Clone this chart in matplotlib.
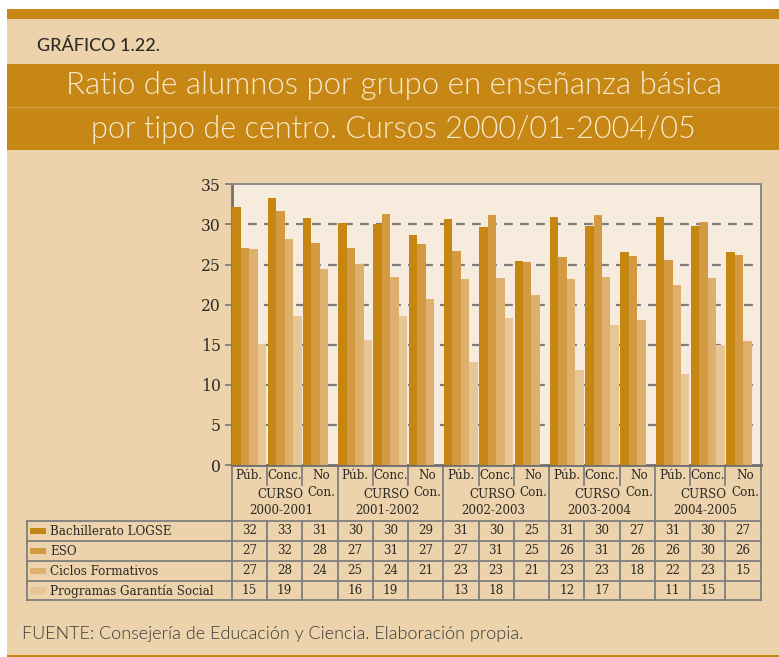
import matplotlib
matplotlib.use("Agg")
import matplotlib.pyplot as plt
from matplotlib.patches import Rectangle
from matplotlib.lines import Line2D
from matplotlib.transforms import blended_transform_factory
from matplotlib import font_manager as fm
import numpy as np

# ---------------- data ----------------
years = ["2000-2001", "2001-2002", "2002-2003", "2003-2004", "2004-2005"]
centers = ["Púb.", "Conc.", "No\nCon."]
series_names = ["Bachillerato LOGSE", "ESO", "Ciclos Formativos", "Programas Garantía Social"]

# bar heights, ordered year by year: Púb., Conc., No Con.
bachillerato = [32.2, 33.3, 30.8, 30.2, 30.1, 28.7, 30.7, 29.7, 25.4, 30.9, 29.8, 26.6, 30.9, 29.8, 26.6]
eso = [27.1, 31.7, 27.7, 27.1, 31.3, 27.6, 26.7, 31.2, 25.3, 25.9, 31.2, 26.1, 25.6, 30.3, 26.2]
ciclos = [26.9, 28.2, 24.4, 25.1, 23.4, 20.7, 23.2, 23.3, 21.2, 23.2, 23.4, 18.1, 22.4, 23.3, 15.5]
garantia = [15.1, 18.6, None, 15.6, 18.6, None, 12.8, 18.3, None, 11.9, 17.5, None, 11.4, 15.0, None]

# table (rounded) labels
tab_bach = ["32", "33", "31", "30", "30", "29", "31", "30", "25", "31", "30", "27", "31", "30", "27"]
tab_eso = ["27", "32", "28", "27", "31", "27", "27", "31", "25", "26", "31", "26", "26", "30", "26"]
tab_ciclos = ["27", "28", "24", "25", "24", "21", "23", "23", "21", "23", "23", "18", "22", "23", "15"]
tab_garantia = ["15", "19", "", "16", "19", "", "13", "18", "", "12", "17", "", "11", "15", ""]

yticks = [0, 5, 10, 15, 20, 25, 30, 35]

colors = ["#C68612", "#D39A41", "#DEB06D", "#E8C594"]
BG = "#ECD3AC"
GOLD = "#C68714"
AXFACE = "#F7EBDD"
GRIDC = "#7D7D7D"
TXT = "#2E2A26"
SANS = ["Lato", "DejaVu Sans"]

# condensed serif if available
cond = [f for f in fm.fontManager.ttflist if f.name.startswith("DejaVu Serif") and "Condensed" in f.fname
        and "Bold" not in f.fname and "Italic" not in f.fname]
if cond:
    SERIF_FP = fm.FontProperties(fname=cond[0].fname)
else:
    SERIF_FP = fm.FontProperties(family="DejaVu Serif")


def sfp(size):
    p = SERIF_FP.copy()
    p.set_size(size)
    return p


W, H = 779, 657
fig = plt.figure(figsize=(W / 100, H / 100), dpi=100, facecolor="white")


def fx(px):
    return px / W


def fy(py):
    return 1 - py / H


# background panels
def panel(x0, y0, x1, y1, col):
    fig.patches.append(Rectangle((fx(x0), fy(y1)), fx(x1 - x0), (y1 - y0) / H,
                                 transform=fig.transFigure, facecolor=col,
                                 edgecolor="none", zorder=-5))


panel(6.7, 19, W, 655, BG)
panel(6.7, 9, W, 19, GOLD)
panel(6.7, 654.5, W, 657, GOLD)
panel(6.7, 64, W, 150, GOLD)
fig.lines.append(Line2D([fx(6.7), 1], [fy(106.7), fy(106.7)], transform=fig.transFigure,
                        color="#D6A04A", lw=0.8, zorder=-4))

fig.text(fx(37), fy(46), "GRÁFICO 1.22.", family=SANS, fontsize=13, color=TXT,
         va="center", ha="left", weight=500)
fig.text(fx(394), fy(86), "Ratio de alumnos por grupo en enseñanza básica", family=SANS,
         fontsize=22.5, color="#F8E8CC", va="center", ha="center", weight=300)
fig.text(fx(393), fy(129), "por tipo de centro. Cursos 2000/01-2004/05", family=SANS,
         fontsize=22, color="#F8E8CC", va="center", ha="center", weight=300)
fig.text(fx(22), fy(634), "FUENTE: Consejería de Educación y Ciencia. Elaboración propia.",
         family=SANS, fontsize=13, color="#3A3A3A", va="center", ha="left", weight=300)

# axes
ax_l, ax_r, ax_t, ax_b = 231.7, 760.7, 184.3, 465.0
ax = fig.add_axes([fx(ax_l), fy(ax_b), fx(ax_r - ax_l), (ax_b - ax_t) / H])
ax.set_facecolor(AXFACE)

n = len(bachillerato)
x = np.arange(n)
bw = 0.24
offsets = [-0.36, -0.12, 0.12, 0.36]
all_series = [bachillerato, eso, ciclos, garantia]
for s, (vals, col, name) in enumerate(zip(all_series, colors, series_names)):
    xs = [xi + offsets[s] for xi, v in zip(x, vals) if v is not None]
    hs = [v for v in vals if v is not None]
    ax.bar(xs, hs, width=bw, color=col, edgecolor="none", zorder=3, label=name)

ax.set_xlim(-0.5, n - 0.5)
ax.set_ylim(0, 35)
ax.set_yticks(yticks)
ax.set_yticklabels([str(t) for t in yticks], fontproperties=sfp(12.5), color=TXT)
ax.set_xticks([])
for t in [5, 10, 15, 20, 25, 30]:
    ax.axhline(t, color=GRIDC, lw=1.6, dashes=(4, 3.2), zorder=1)
ax.tick_params(axis="y", length=5, width=1.2, color="#777777", pad=3)
for side in ["top", "right"]:
    ax.spines[side].set_color("#8A8A8A")
    ax.spines[side].set_linewidth(1.4)
ax.spines["left"].set_color("#707070")
ax.spines["left"].set_linewidth(2)
ax.spines["bottom"].set_color("#707070")
ax.spines["bottom"].set_linewidth(2)

# table / category area
tr = blended_transform_factory(ax.transData, fig.transFigure)
LC = "#7F7F7F"
TS = 9.5


def vline(xd, y0, y1, lw=1.3):
    ax.add_line(Line2D([xd, xd], [fy(y0), fy(y1)], transform=tr, color=LC, lw=lw, clip_on=False))


for b in range(n + 1):
    xb = b - 0.5
    if b % 3 == 0:
        vline(xb, ax_b, 600)
    else:
        vline(xb, ax_b, 485)
        vline(xb, 521, 600)

rows_y = [521, 541, 561, 581, 600]
for ry in rows_y:
    fig.lines.append(Line2D([fx(27), fx(ax_r)], [fy(ry), fy(ry)], transform=fig.transFigure,
                            color=LC, lw=1.3))
fig.lines.append(Line2D([fx(27), fx(27)], [fy(521), fy(600)], transform=fig.transFigure,
                        color=LC, lw=1.3))

for i in range(n):
    lab = centers[i % 3]
    if "\n" in lab:
        top, bot = lab.split("\n")
        ax.text(i + 0.05, fy(475.5), top, transform=tr, ha="center", va="center",
                fontproperties=sfp(TS), color=TXT)
        ax.text(i + 0.05, fy(492), bot, transform=tr, ha="center", va="center",
                fontproperties=sfp(TS), color=TXT)
    else:
        ax.text(i, fy(475.5), lab, transform=tr, ha="center", va="center",
                fontproperties=sfp(TS), color=TXT)

for k, yr in enumerate(years):
    xc = 3 * k + 1 - 0.12
    ax.text(xc, fy(495), "CURSO", transform=tr, ha="center", va="center",
            fontproperties=sfp(TS), color=TXT)
    ax.text(xc + 0.04, fy(511), yr, transform=tr, ha="center", va="center",
            fontproperties=sfp(TS), color=TXT)

tab_rows = [tab_bach, tab_eso, tab_ciclos, tab_garantia]
for r, (vals, col, name) in enumerate(zip(tab_rows, colors, series_names)):
    yc = (rows_y[r] + rows_y[r + 1]) / 2
    fig.patches.append(Rectangle((fx(30), fy(yc + 3.3)), fx(16), 6.6 / H,
                                 transform=fig.transFigure, facecolor=col, edgecolor="none"))
    fig.text(fx(50.5), fy(yc + 0.5), name, fontproperties=sfp(TS), color=TXT,
             ha="left", va="center")
    for i, v in enumerate(vals):
        ax.text(i, fy(yc), v, transform=tr, ha="center", va="center",
                fontproperties=sfp(TS), color=TXT)

fig.savefig("out.png", dpi=100, facecolor=fig.get_facecolor())
